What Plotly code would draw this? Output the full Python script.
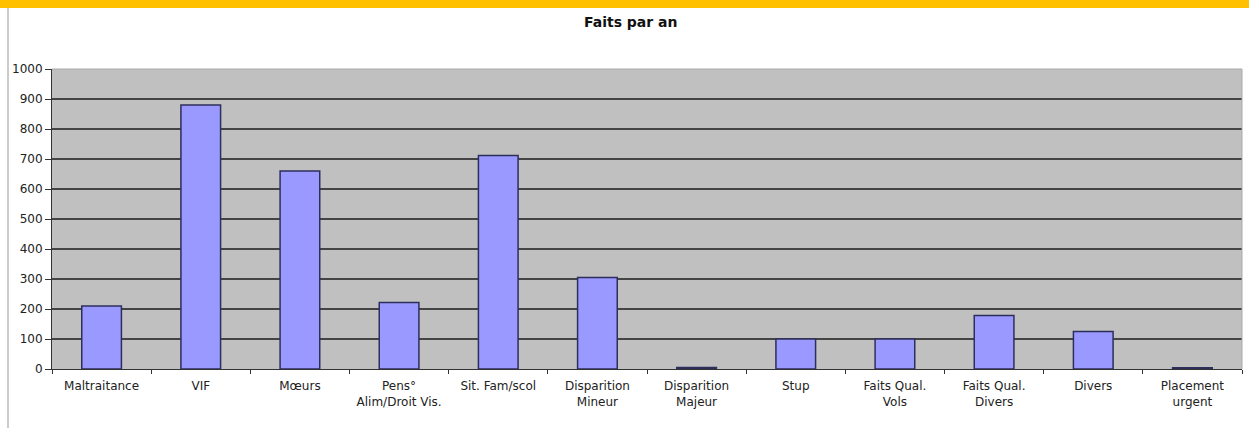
import plotly.graph_objects as go

categories = ["Maltraitance", "VIF", "Mœurs", "Pens°<br>Alim/Droit Vis.", "Sit. Fam/scol",
              "Disparition<br>Mineur", "Disparition<br>Majeur", "Stup", "Faits Qual.<br>Vols",
              "Faits Qual.<br>Divers", "Divers", "Placement<br>urgent"]
values = [210, 880, 660, 222, 712, 305, 5, 100, 100, 178, 125, 4]
y_ticks = [0, 100, 200, 300, 400, 500, 600, 700, 800, 900, 1000]

fig = go.Figure()
fig.add_trace(go.Bar(
    x=categories, y=values, width=0.4,
    marker=dict(color="#9999FF", line=dict(color="#2E2E5C", width=1.5)),
))

fig.update_layout(
    width=1249, height=428,
    margin=dict(l=52, r=7, t=69, b=59),
    paper_bgcolor="white", plot_bgcolor="#C0C0C0",
    font=dict(family="DejaVu Sans, Arial, sans-serif", size=12, color="#222"),
    title=dict(text="<b>Faits par an</b>", x=0.505, xanchor="center", y=0.948, yanchor="middle",
               font=dict(size=14, color="#111")),
    showlegend=False,
    bargap=0.6,
    shapes=[
        dict(type="rect", xref="paper", yref="paper", x0=-0.05, x1=1.01, y0=1.0 + 61/300, y1=1.3,
             fillcolor="#FFC000", line=dict(width=0), layer="above"),
        dict(type="line", xref="paper", yref="paper", x0=-44/1190, x1=-44/1190, y0=-59/300, y1=1 + 61/300,
             line=dict(color="#999", width=1)),
        dict(type="line", xref="paper", yref="paper", x0=1, x1=1, y0=0, y1=1,
             line=dict(color="#AAAAAA", width=1)),
        dict(type="line", xref="paper", yref="paper", x0=0, x1=1, y0=1, y1=1,
             line=dict(color="#AAAAAA", width=1)),
    ],
)
fig.update_xaxes(
    showgrid=False, showline=True, linecolor="#333", linewidth=1,
    ticks="outside", tickson="boundaries", ticklen=4, tickcolor="#333",
    tickfont=dict(size=12, color="#222"), ticklabelstandoff=6,
)
fig.update_yaxes(
    range=[0, 1000], tickvals=y_ticks, showgrid=True, gridcolor="#444", gridwidth=1.5,
    showline=True, linecolor="#333", linewidth=1, ticks="outside", ticklen=6, tickcolor="#333",
    tickfont=dict(size=12, color="#222"), zeroline=False,
)
fig.write_html("out.html", config={"displayModeBar": False},
               post_script="document.body.style.margin='0';document.body.style.overflow='hidden';")
